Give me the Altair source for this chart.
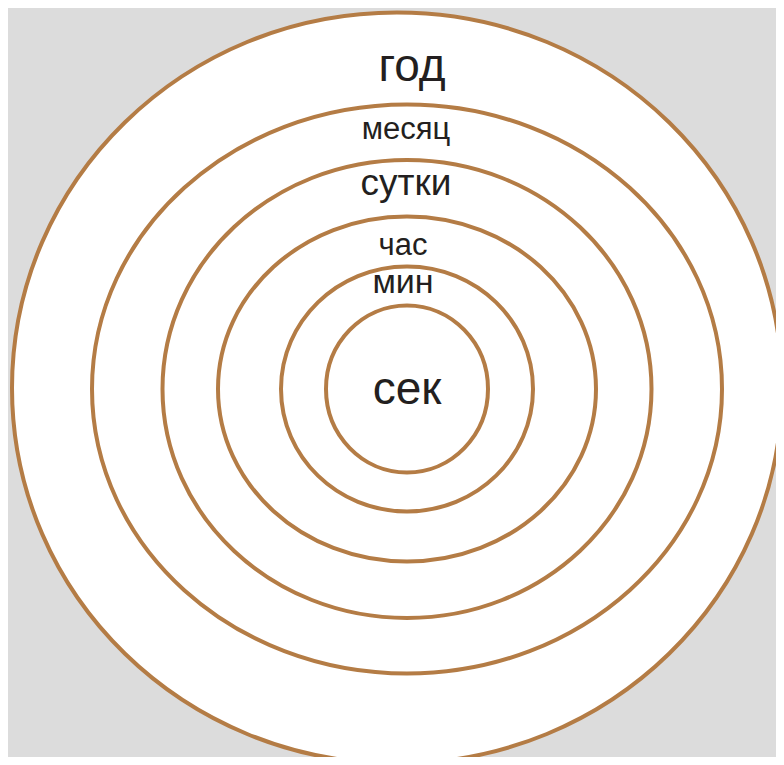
import altair as alt
import pandas as pd

# Rings (outer to inner) and their labels
labels = ["год", "месяц", "сутки", "час", "мин", "сек"]
# semi-axes of each ring (px)
ring_rx = [385, 315, 244.5, 189, 126, 81]
ring_ry = [375.5, 284.5, 229, 172.5, 122.5, 83.5]

# layout (image pixel coordinates)
ring_cx = [397, 407, 407, 407, 407, 407]
ring_cy = [388, 389, 389, 389, 389, 389]
label_x = [412, 406, 406, 403, 403, 407]
label_y = [81, 139, 195, 255, 293, 404]
label_fs = [46, 31, 37, 31, 34, 46]

K = 0.5523


def ellipse_path(k):
    a = round(K * k, 4)
    kk = round(k, 4)
    return (f"M -1 0 C -1 {-a} {-K} {-kk} 0 {-kk} C {K} {-kk} 1 {-a} 1 0 "
            f"C 1 {a} {K} {kk} 0 {kk} C {-K} {kk} -1 {a} -1 0 Z")


rings = pd.DataFrame({
    "label": labels,
    "idx": list(range(len(labels))),
    "cx": ring_cx,
    "cy": ring_cy,
    "sz": [(2 * r) ** 2 for r in ring_rx],
    "path": [ellipse_path(ry / rx) for rx, ry in zip(ring_rx, ring_ry)],
})

texts = pd.DataFrame({
    "label": labels,
    "x": label_x,
    "y": label_y,
    "fs": label_fs,
})

# plot area fits inside the 784x765 window with its 8px page margin
W, H = 768, 749
xs = alt.Scale(domain=[8, 8 + W], range=[0, W], nice=False, zero=False)
ys = alt.Scale(domain=[8, 8 + H], range=[0, H], nice=False, zero=False)

ring_layer = alt.Chart(rings).mark_point(
    filled=True, clip=True,
).encode(
    x=alt.X("cx:Q", scale=xs, axis=None),
    y=alt.Y("cy:Q", scale=ys, axis=None),
    size=alt.Size("sz:Q", scale=None, legend=None),
    shape=alt.Shape("path:N", scale=None, legend=None),
    order=alt.Order("idx:Q", sort="ascending"),
    fill=alt.value("white"),
    stroke=alt.value("#b47c45"),
    strokeWidth=alt.value(4),
    opacity=alt.value(1),
)

text_layer = alt.Chart(texts).mark_text(
    font="Liberation Sans", color="#231f20", align="center", baseline="alphabetic",
).encode(
    x=alt.X("x:Q", scale=xs, axis=None),
    y=alt.Y("y:Q", scale=ys, axis=None),
    size=alt.Size("fs:Q", scale=None, legend=None),
    text="label:N",
)

chart = alt.layer(ring_layer, text_layer).properties(
    width=W, height=H,
    background="#dcdcdc",
    padding=0,
).configure_view(stroke=None, fill="#dcdcdc")

chart.save("out.html", embed_options={"renderer": "svg", "actions": False})
